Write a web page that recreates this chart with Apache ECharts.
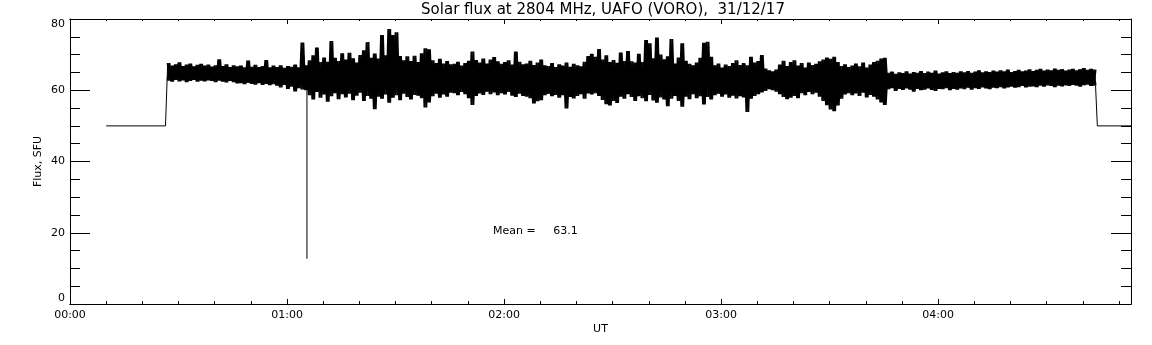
<!DOCTYPE html>
<html>
<head>
<meta charset="utf-8">
<title>Solar flux 2804 MHz</title>
<script src="https://cdn.jsdelivr.net/npm/echarts/dist/echarts.min.js"></script>
<style>
html, body { margin: 0; padding: 0; background: #fff; }
#main { width: 1152px; height: 345px; }
</style>
</head>
<body>
<div id="main"></div>
<script>
// flux record, times in minutes after 00:00 UT
var idleTimes = [10, 26.4];          // receiver idle level before the record
var idleVals = [50, 50];
var endTimes = [284, 293.3];         // idle level after the record
var endVals = [50, 50];
var dropTimes = [65.5];              // single dropout sample
var dropVals = [12.7];
var bandStart = 27;                  // first minute of the envelope arrays
var meanFlux = 63.1;

// per minute upper envelope of the noisy signal
var fluxHi = [
    67.6,66.9,67.3,67.8,66.8,67.2,67.5,66.7,67.1,67.4,
    66.9,67.2,66.6,67.0,68.7,66.8,67.3,66.5,67.0,66.7,
    66.9,66.4,68.3,66.6,67.1,66.5,66.8,68.5,66.4,66.9,
    66.5,67.0,66.3,66.8,66.6,67.2,66.4,73.4,67.0,
    68.4,69.8,72.0,67.9,69.2,68.0,73.8,69.1,68.2,70.4,
    68.6,70.5,69.0,67.8,69.9,71.2,73.5,69.1,70.3,68.9,
    75.5,69.8,77.2,75.5,76.3,69.6,68.4,69.5,68.2,69.7,
    67.9,70.4,71.8,71.5,68.4,67.6,68.8,67.5,68.2,67.3,
    67.4,68.0,66.9,67.6,68.3,70.9,68.5,67.8,68.9,67.5,
    68.6,69.3,68.1,67.4,67.9,68.4,67.2,70.9,68.0,67.3,
    67.5,68.3,67.1,67.8,68.6,67.0,66.8,67.6,66.5,67.3,
    66.9,67.8,66.6,67.4,67.0,66.7,68.0,69.6,70.2,69.4,
    71.6,68.6,69.8,67.9,68.5,67.7,70.6,68.2,71.0,68.1,
    67.8,70.2,67.9,74.1,73.2,69.0,74.8,70.0,68.7,69.5,
    74.4,67.5,69.2,73.2,68.3,67.4,67.0,67.8,69.1,73.3,
    73.6,69.4,67.0,67.5,66.4,67.2,66.8,67.6,68.4,67.1,
    67.6,67.0,69.4,67.8,68.2,69.9,66.1,65.6,65.3,65.8,
    67.2,68.3,66.8,67.9,68.4,66.9,67.6,66.4,67.8,67.1,
    67.4,68.1,68.6,69.2,68.8,69.4,67.9,66.8,67.3,66.5,
    66.9,67.5,66.7,67.8,66.4,67.2,67.9,68.3,68.9,69.1,
    64.9,65.2,64.6,65.0,64.8,65.3,64.7,65.1,64.9,65.4,
    64.8,65.2,64.9,65.5,64.7,65.0,65.3,64.8,65.1,64.9,
    65.3,65.0,65.4,64.9,65.2,65.6,65.0,65.3,65.1,65.5,
    65.2,65.6,65.3,65.8,65.1,65.4,65.7,65.3,65.5,65.9,
    65.4,65.7,66.0,65.5,65.8,65.6,66.1,65.7,65.9,65.5,
    65.8,66.0,65.6,65.9,66.2,65.7,66.0,65.8
];
// per minute lower envelope
var fluxLo = [
    62.7,62.4,62.9,62.5,62.8,62.3,62.6,62.9,62.4,62.7,
    62.5,62.8,62.6,62.3,62.7,62.4,62.2,62.6,62.3,61.9,
    62.0,61.7,62.1,61.8,61.6,62.0,61.5,61.8,61.4,61.7,
    61.3,60.8,61.5,60.4,61.0,59.7,60.6,60.2,60.0,
    58.6,57.4,59.5,57.9,58.8,56.8,58.3,59.2,57.5,58.9,
    58.0,59.0,57.2,58.5,59.3,57.0,58.4,57.6,54.7,58.2,
    57.6,58.8,56.5,57.9,58.6,57.2,59.0,58.1,57.4,58.7,
    58.5,57.8,55.2,56.6,58.3,59.0,57.9,58.8,58.2,59.3,
    59.2,58.6,59.5,58.9,57.8,55.9,58.4,59.1,58.7,59.6,
    58.9,59.4,58.6,59.2,58.8,59.5,58.5,58.1,59.0,58.4,
    58.2,57.8,56.3,56.9,57.2,58.6,59.0,58.3,58.7,57.9,
    58.6,54.9,58.1,57.7,58.4,58.9,57.6,59.1,58.8,59.2,
    58.4,57.3,56.1,55.7,57.0,56.4,58.2,57.6,58.9,58.1,
    57.0,58.3,57.8,56.9,58.7,57.1,56.5,58.0,57.4,55.5,
    57.6,58.4,57.0,55.4,58.2,57.5,58.9,57.8,58.3,56.0,
    58.1,57.4,58.6,59.0,58.2,58.8,57.9,58.5,57.7,58.3,
    58.0,53.9,57.6,58.4,58.9,59.4,59.8,60.3,60.0,59.6,
    58.9,58.1,57.5,57.9,58.4,57.8,59.2,58.6,59.5,58.9,
    59.3,58.2,57.0,55.8,54.6,54.1,55.7,57.6,58.8,59.2,
    58.6,59.1,58.4,59.3,58.0,58.7,58.2,57.4,56.6,55.9,
    60.3,60.6,59.8,60.4,60.1,60.5,60.2,59.6,60.4,60.0,
    60.2,60.5,60.1,59.8,60.4,60.3,60.6,60.0,60.4,60.2,
    60.5,60.3,60.7,60.2,60.6,60.4,60.8,60.5,60.3,60.7,
    60.6,60.9,60.5,60.8,61.0,60.7,60.9,61.2,60.8,61.0,
    61.1,60.9,61.3,61.0,61.4,61.2,60.9,61.3,61.1,61.4,
    61.2,61.5,61.3,61.0,61.4,61.6,61.2,61.3
];

var xMax = endTimes[endTimes.length - 1];
var lastT = bandStart + fluxHi.length - 0.5;

// idle level before / after, joined to the first / last sample
var startData = [];
for (var i = 0; i < idleTimes.length; i++) startData.push([idleTimes[i], idleVals[i]]);
startData.push([bandStart, fluxHi[0]]);

var endData = [[lastT, fluxLo[fluxLo.length - 1]]];
for (var i = 0; i < endTimes.length; i++) endData.push([endTimes[i], endVals[i]]);

// dropout: straight down from the band
var dropIdx = Math.floor(dropTimes[0]) - bandStart;
var dropData = [[dropTimes[0], fluxLo[dropIdx]], [dropTimes[0], dropVals[0]]];

// two zig-zags in opposite phase through the envelope -> dense band
var bandA = [], bandB = [];
for (var i = 0; i < fluxHi.length; i++) {
    bandA.push([bandStart + i, fluxHi[i]]);
    bandA.push([bandStart + i + 0.5, fluxLo[i]]);
    bandB.push([bandStart + i, fluxLo[i]]);
    bandB.push([bandStart + i + 0.5, fluxHi[i]]);
}

function fmtUT(v) {
    var h = Math.floor(v / 60), m = Math.round(v - h * 60);
    return (h < 10 ? '0' : '') + h + ':' + (m < 10 ? '0' : '') + m;
}

var font = 'DejaVu Sans';
var black = { color: '#000', width: 1 };

function xAx(pos, step, len, labels) {
    return {
        type: 'value', position: pos, min: 0, max: xMax, interval: step,
        axisLine: { show: true, onZero: false, lineStyle: black },
        axisTick: { show: true, inside: true, length: len, lineStyle: black },
        axisLabel: {
            show: labels, color: '#000', fontSize: 11, fontFamily: font,
            margin: 6, showMaxLabel: false, formatter: fmtUT
        },
        splitLine: { show: false }
    };
}
function yAx(pos, labels) {
    return {
        type: 'value', position: pos, min: 0, max: 80, interval: 20,
        axisLine: { show: true, onZero: false, lineStyle: black },
        axisTick: { show: true, inside: true, length: 20, lineStyle: black },
        minorTick: { show: true, splitNumber: 4, length: 10, lineStyle: black },
        axisLabel: {
            show: labels, color: '#000', fontSize: 11, fontFamily: font, margin: 5,
            verticalAlignMinLabel: 'bottom', verticalAlignMaxLabel: 'top'
        },
        splitLine: { show: false }
    };
}
function trace(data, w) {
    return {
        type: 'line', xAxisIndex: 0, yAxisIndex: 0, data: data,
        symbol: 'none', showSymbol: false, silent: true,
        lineStyle: { color: '#000', width: w, join: 'bevel' }
    };
}

var xBottom = xAx('bottom', 60, 5, true);
xBottom.name = 'UT';
xBottom.nameLocation = 'middle';
xBottom.nameGap = 20;
xBottom.nameMoveOverlap = false;
xBottom.nameTextStyle = { color: '#000', fontSize: 11, fontFamily: font };

var yLeft = yAx('left', true);
yLeft.name = 'Flux, SFU';
yLeft.nameLocation = 'middle';
yLeft.nameGap = 26;
yLeft.nameMoveOverlap = false;
yLeft.nameTextStyle = { color: '#000', fontSize: 11, fontFamily: font };

var myChart = echarts.init(document.getElementById('main'), null, { renderer: 'canvas' });

var option = {
    backgroundColor: '#fff',
    animation: false,
    title: {
        text: 'Solar flux at 2804 MHz, UAFO (VORO),  31/12/17',
        left: 598, top: -2, textAlign: 'center',
        textStyle: { color: '#000', fontSize: 15, fontWeight: 'normal', fontFamily: font }
    },
    grid: { left: 70, right: 21, top: 19, bottom: 41, containLabel: false, outerBoundsMode: 'none' },
    xAxis: [
        xBottom,
        xAx('bottom', 10, 3, false),
        xAx('top', 60, 5, false),
        xAx('top', 10, 2, false)
    ],
    yAxis: [yLeft, yAx('right', false)],
    graphic: [{
        type: 'text', left: 493, top: 226, silent: true,
        style: { text: 'Mean =     ' + meanFlux.toFixed(1), fill: '#000', font: '11px ' + font }
    }],
    series: [
        trace(startData, 1),
        trace(bandA, 2),
        trace(bandB, 2),
        trace(dropData, 1),
        trace(endData, 1)
    ]
};
myChart.setOption(option);
</script>
</body>
</html>
